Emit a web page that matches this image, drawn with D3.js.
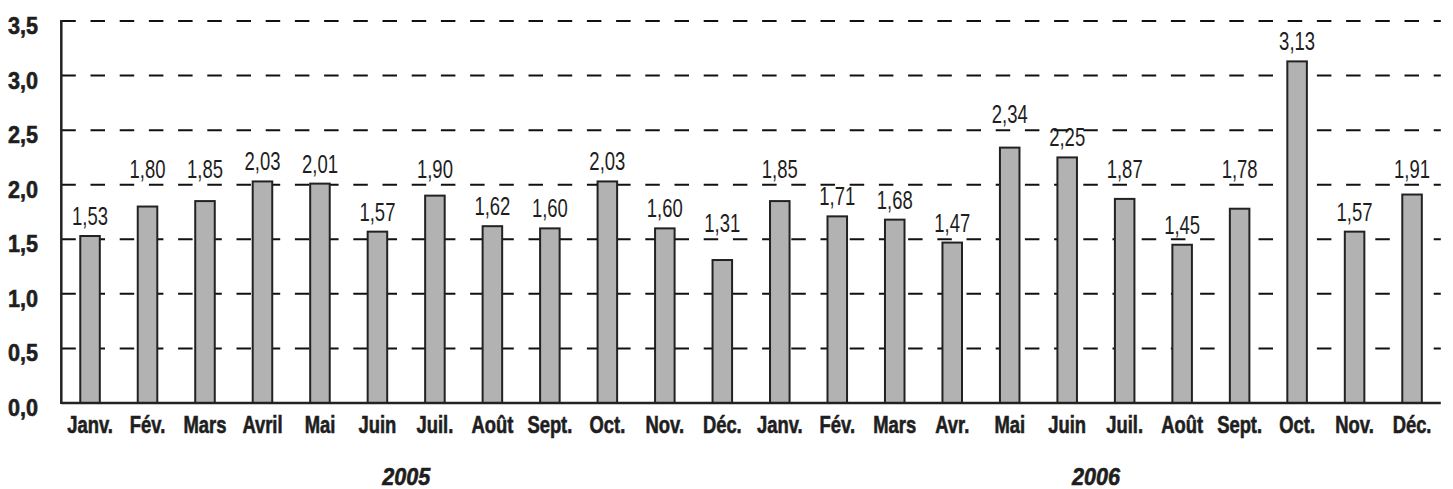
<!DOCTYPE html>
<html><head><meta charset="utf-8">
<script src="https://cdn.jsdelivr.net/npm/d3@7"></script>
<style>
html,body{margin:0;padding:0;background:#fff;}
svg{display:block;}
text{font-family:'Liberation Sans',Arial,Helvetica,sans-serif;fill:#1e1e1e;}
.heavy{stroke:#1e1e1e;stroke-width:0.6px;}
</style></head>
<body>
<svg id="chart" width="1453" height="489"></svg>
<script>
const months = ["Janv.","Fév.","Mars","Avril","Mai","Juin","Juil.","Août","Sept.","Oct.","Nov.","Déc.",
                "Janv.","Fév.","Mars","Avr.","Mai","Juin","Juil.","Août","Sept.","Oct.","Nov.","Déc."];
const values = [1.53,1.80,1.85,2.03,2.01,1.57,1.90,1.62,1.60,2.03,1.60,1.31,
                1.85,1.71,1.68,1.47,2.34,2.25,1.87,1.45,1.78,3.13,1.57,1.91];
const years = ["2005","2006"];
const yTicks = [0,0.5,1,1.5,2,2.5,3,3.5];

const data = months.map((m,i)=>({key:i, month:m, value:values[i]}));
const svg = d3.select("#chart");
const x0 = 61.3, x1 = 1440.8, yB = 403, yT = 21;

const x = d3.scaleBand().domain(data.map(d=>d.key)).range([x0,x1]).paddingInner(0.66).paddingOuter(0.33);
const y = d3.scaleLinear().domain([0,3.5]).range([yB,yT]);
const fmt = v => d3.format(".2f")(v).replace(".",",");
const fmtT = v => d3.format(".1f")(v).replace(".",",");
const cx = d => x(d.key)+x.bandwidth()/2;

// gridlines
const gridY = yTicks.filter(t=>t>0).map(t=>y(t));
svg.append("g").selectAll("line").data(yTicks.filter(t=>t>0)).join("line")
  .attr("x1",x0).attr("x2",x1).attr("y1",d=>y(d)).attr("y2",d=>y(d))
  .attr("stroke","#111").attr("stroke-width",2).attr("stroke-dasharray","14.5 14.7");

// bars
svg.append("g").selectAll("rect").data(data).join("rect")
  .attr("x",d=>x(d.key)).attr("width",x.bandwidth())
  .attr("y",d=>y(d.value)).attr("height",d=>yB-y(d.value))
  .attr("fill","#b2b2b2").attr("stroke","#222").attr("stroke-width",2);

// value labels: placed above bar, lifted above a gridline if they would cross it
function labelBase(v){
  let b = y(v) - 11;
  const top = b - 16;
  for (const g of gridY){ if (g > top && g < b + 3) { b = g - 7; break; } }
  return b;
}
svg.append("g").selectAll("text").data(data).join("text")
  .attr("transform",d=>`translate(${cx(d)},${labelBase(d.value)}) scale(0.74,1)`)
  .attr("text-anchor","middle").attr("font-size",25)
  .text(d=>fmt(d.value));

// axes lines
svg.append("line").attr("x1",x0).attr("x2",x0).attr("y1",yT-1).attr("y2",yB+1)
  .attr("stroke","#222").attr("stroke-width",2.5);
svg.append("line").attr("x1",x0).attr("x2",x1).attr("y1",yB).attr("y2",yB)
  .attr("stroke","#222").attr("stroke-width",2.5);

// y tick labels
svg.append("g").selectAll("text").data(yTicks).join("text")
  .attr("class","heavy")
  .attr("transform",d=>`translate(38,${y(d)+13}) scale(0.9,1)`)
  .attr("text-anchor","end").attr("font-size",24).attr("font-weight","bold")
  .text(d=>fmtT(d));

// month labels
svg.append("g").selectAll("text").data(data).join("text")
  .attr("class","heavy")
  .attr("transform",d=>`translate(${cx(d)},433) scale(0.8,1)`)
  .attr("text-anchor","middle").attr("font-size",23).attr("font-weight","bold")
  .text(d=>d.month);

// year labels
const yearX = d3.scaleBand().domain(years).range([x0,x1]);
svg.append("g").selectAll("text").data(years).join("text")
  .attr("class","heavy")
  .attr("transform",d=>`translate(${yearX(d)+yearX.bandwidth()/2},485) scale(0.9,1)`)
  .attr("text-anchor","middle").attr("font-size",24).attr("font-weight","bold").attr("font-style","italic")
  .text(d=>d);
</script>
</body></html>
